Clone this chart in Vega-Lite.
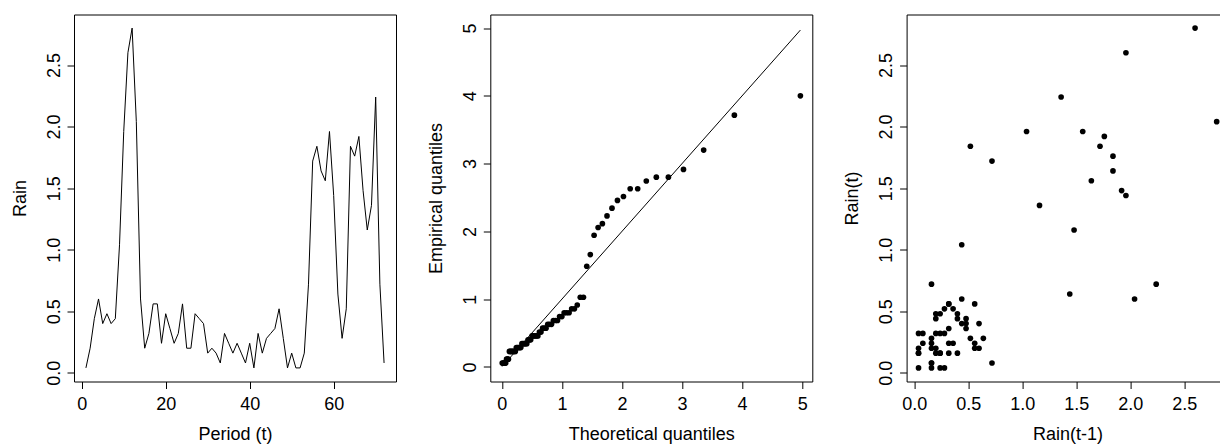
{
  "$schema": "https://vega.github.io/schema/vega-lite/v6.json",
  "padding": {"left": 10, "top": 13.5, "right": 5, "bottom": 0},
  "background": "white",
  "bounds": "flush",
  "spacing": 94.3,
  "datasets": {
    "rain": [
      {"t": 1, "v": 0.04}, {"t": 2, "v": 0.20}, {"t": 3, "v": 0.44}, {"t": 4, "v": 0.60}, {"t": 5, "v": 0.40},
      {"t": 6, "v": 0.48}, {"t": 7, "v": 0.40}, {"t": 8, "v": 0.44}, {"t": 9, "v": 1.04}, {"t": 10, "v": 1.96},
      {"t": 11, "v": 2.60}, {"t": 12, "v": 2.80}, {"t": 13, "v": 2.04}, {"t": 14, "v": 0.60}, {"t": 15, "v": 0.20},
      {"t": 16, "v": 0.32}, {"t": 17, "v": 0.56}, {"t": 18, "v": 0.56}, {"t": 19, "v": 0.24}, {"t": 20, "v": 0.48},
      {"t": 21, "v": 0.36}, {"t": 22, "v": 0.24}, {"t": 23, "v": 0.32}, {"t": 24, "v": 0.56}, {"t": 25, "v": 0.20},
      {"t": 26, "v": 0.20}, {"t": 27, "v": 0.48}, {"t": 28, "v": 0.44}, {"t": 29, "v": 0.40}, {"t": 30, "v": 0.16},
      {"t": 31, "v": 0.20}, {"t": 32, "v": 0.16}, {"t": 33, "v": 0.08}, {"t": 34, "v": 0.32}, {"t": 35, "v": 0.24},
      {"t": 36, "v": 0.16}, {"t": 37, "v": 0.24}, {"t": 38, "v": 0.16}, {"t": 39, "v": 0.08}, {"t": 40, "v": 0.24},
      {"t": 41, "v": 0.04}, {"t": 42, "v": 0.32}, {"t": 43, "v": 0.16}, {"t": 44, "v": 0.28}, {"t": 45, "v": 0.32},
      {"t": 46, "v": 0.36}, {"t": 47, "v": 0.52}, {"t": 48, "v": 0.28}, {"t": 49, "v": 0.04}, {"t": 50, "v": 0.16},
      {"t": 51, "v": 0.04}, {"t": 52, "v": 0.04}, {"t": 53, "v": 0.16}, {"t": 54, "v": 0.72}, {"t": 55, "v": 1.72},
      {"t": 56, "v": 1.84}, {"t": 57, "v": 1.64}, {"t": 58, "v": 1.56}, {"t": 59, "v": 1.96}, {"t": 60, "v": 1.44},
      {"t": 61, "v": 0.64}, {"t": 62, "v": 0.28}, {"t": 63, "v": 0.52}, {"t": 64, "v": 1.84}, {"t": 65, "v": 1.76},
      {"t": 66, "v": 1.92}, {"t": 67, "v": 1.48}, {"t": 68, "v": 1.16}, {"t": 69, "v": 1.36}, {"t": 70, "v": 2.24},
      {"t": 71, "v": 0.72}, {"t": 72, "v": 0.08}
    ],
    "qq": [
      {"theo": 0.007, "emp": 0.0571}, {"theo": 0.021, "emp": 0.0571}, {"theo": 0.035, "emp": 0.0571}, {"theo": 0.050, "emp": 0.0571}, {"theo": 0.065, "emp": 0.0571},
      {"theo": 0.079, "emp": 0.1143}, {"theo": 0.095, "emp": 0.1143}, {"theo": 0.110, "emp": 0.1143},
      {"theo": 0.126, "emp": 0.2286}, {"theo": 0.141, "emp": 0.2286}, {"theo": 0.158, "emp": 0.2286}, {"theo": 0.174, "emp": 0.2286}, {"theo": 0.191, "emp": 0.2286}, {"theo": 0.208, "emp": 0.2286}, {"theo": 0.225, "emp": 0.2286},
      {"theo": 0.242, "emp": 0.2857}, {"theo": 0.260, "emp": 0.2857}, {"theo": 0.278, "emp": 0.2857}, {"theo": 0.297, "emp": 0.2857}, {"theo": 0.316, "emp": 0.2857},
      {"theo": 0.335, "emp": 0.3429}, {"theo": 0.355, "emp": 0.3429}, {"theo": 0.375, "emp": 0.3429}, {"theo": 0.395, "emp": 0.3429}, {"theo": 0.416, "emp": 0.3429},
      {"theo": 0.437, "emp": 0.4000}, {"theo": 0.459, "emp": 0.4000}, {"theo": 0.481, "emp": 0.4000},
      {"theo": 0.504, "emp": 0.4571}, {"theo": 0.527, "emp": 0.4571}, {"theo": 0.551, "emp": 0.4571}, {"theo": 0.575, "emp": 0.4571}, {"theo": 0.600, "emp": 0.4571},
      {"theo": 0.626, "emp": 0.5143}, {"theo": 0.652, "emp": 0.5143},
      {"theo": 0.679, "emp": 0.5714}, {"theo": 0.707, "emp": 0.5714}, {"theo": 0.736, "emp": 0.5714},
      {"theo": 0.765, "emp": 0.6286}, {"theo": 0.795, "emp": 0.6286}, {"theo": 0.827, "emp": 0.6286},
      {"theo": 0.859, "emp": 0.6857}, {"theo": 0.892, "emp": 0.6857}, {"theo": 0.927, "emp": 0.6857},
      {"theo": 0.962, "emp": 0.7429}, {"theo": 1.000, "emp": 0.7429},
      {"theo": 1.038, "emp": 0.8000}, {"theo": 1.078, "emp": 0.8000}, {"theo": 1.120, "emp": 0.8000},
      {"theo": 1.163, "emp": 0.8571}, {"theo": 1.209, "emp": 0.8571},
      {"theo": 1.256, "emp": 0.9143},
      {"theo": 1.306, "emp": 1.0286}, {"theo": 1.359, "emp": 1.0286},
      {"theo": 1.414, "emp": 1.4857}, {"theo": 1.473, "emp": 1.6571}, {"theo": 1.536, "emp": 1.9429}, {"theo": 1.603, "emp": 2.0571},
      {"theo": 1.674, "emp": 2.1143}, {"theo": 1.751, "emp": 2.2286}, {"theo": 1.834, "emp": 2.3429}, {"theo": 1.925, "emp": 2.4571},
      {"theo": 2.025, "emp": 2.5143}, {"theo": 2.137, "emp": 2.6286}, {"theo": 2.262, "emp": 2.6286}, {"theo": 2.405, "emp": 2.7429},
      {"theo": 2.572, "emp": 2.8000}, {"theo": 2.773, "emp": 2.8000}, {"theo": 3.024, "emp": 2.9143}, {"theo": 3.360, "emp": 3.2000},
      {"theo": 3.871, "emp": 3.7143}, {"theo": 4.970, "emp": 4.0000}
    ],
    "ref": [{"a": 0.007, "b": 0.007}, {"a": 4.970, "b": 4.970}],
    "lag": [
      {"prev": 0.04, "cur": 0.20}, {"prev": 0.20, "cur": 0.44}, {"prev": 0.44, "cur": 0.60}, {"prev": 0.60, "cur": 0.40}, {"prev": 0.40, "cur": 0.48},
      {"prev": 0.48, "cur": 0.40}, {"prev": 0.40, "cur": 0.44}, {"prev": 0.44, "cur": 1.04}, {"prev": 1.04, "cur": 1.96}, {"prev": 1.96, "cur": 2.60},
      {"prev": 2.60, "cur": 2.80}, {"prev": 2.80, "cur": 2.04}, {"prev": 2.04, "cur": 0.60}, {"prev": 0.60, "cur": 0.20}, {"prev": 0.20, "cur": 0.32},
      {"prev": 0.32, "cur": 0.56}, {"prev": 0.56, "cur": 0.56}, {"prev": 0.56, "cur": 0.24}, {"prev": 0.24, "cur": 0.48}, {"prev": 0.48, "cur": 0.36},
      {"prev": 0.36, "cur": 0.24}, {"prev": 0.24, "cur": 0.32}, {"prev": 0.32, "cur": 0.56}, {"prev": 0.56, "cur": 0.20}, {"prev": 0.20, "cur": 0.20},
      {"prev": 0.20, "cur": 0.48}, {"prev": 0.48, "cur": 0.44}, {"prev": 0.44, "cur": 0.40}, {"prev": 0.40, "cur": 0.16}, {"prev": 0.16, "cur": 0.20},
      {"prev": 0.20, "cur": 0.16}, {"prev": 0.16, "cur": 0.08}, {"prev": 0.08, "cur": 0.32}, {"prev": 0.32, "cur": 0.24}, {"prev": 0.24, "cur": 0.16},
      {"prev": 0.16, "cur": 0.24}, {"prev": 0.24, "cur": 0.16}, {"prev": 0.16, "cur": 0.08}, {"prev": 0.08, "cur": 0.24}, {"prev": 0.24, "cur": 0.04},
      {"prev": 0.04, "cur": 0.32}, {"prev": 0.32, "cur": 0.16}, {"prev": 0.16, "cur": 0.28}, {"prev": 0.28, "cur": 0.32}, {"prev": 0.32, "cur": 0.36},
      {"prev": 0.36, "cur": 0.52}, {"prev": 0.52, "cur": 0.28}, {"prev": 0.28, "cur": 0.04}, {"prev": 0.04, "cur": 0.16}, {"prev": 0.16, "cur": 0.04},
      {"prev": 0.04, "cur": 0.04}, {"prev": 0.04, "cur": 0.16}, {"prev": 0.16, "cur": 0.72}, {"prev": 0.72, "cur": 1.72}, {"prev": 1.72, "cur": 1.84},
      {"prev": 1.84, "cur": 1.64}, {"prev": 1.64, "cur": 1.56}, {"prev": 1.56, "cur": 1.96}, {"prev": 1.96, "cur": 1.44}, {"prev": 1.44, "cur": 0.64},
      {"prev": 0.64, "cur": 0.28}, {"prev": 0.28, "cur": 0.52}, {"prev": 0.52, "cur": 1.84}, {"prev": 1.84, "cur": 1.76}, {"prev": 1.76, "cur": 1.92},
      {"prev": 1.92, "cur": 1.48}, {"prev": 1.48, "cur": 1.16}, {"prev": 1.16, "cur": 1.36}, {"prev": 1.36, "cur": 2.24}, {"prev": 2.24, "cur": 0.72},
      {"prev": 0.72, "cur": 0.08}
    ]
  },
  "hconcat": [
    {
      "width": 322, "height": 367,
      "data": {"name": "rain"},
      "mark": {"type": "line", "color": "black", "strokeWidth": 1, "clip": true},
      "encoding": {
        "x": {"field": "t", "type": "quantitative", "title": "Period (t)",
              "scale": {"domain": [-1.84, 74.84], "nice": false, "zero": false},
              "axis": {"values": [0, 20, 40, 60]}},
        "y": {"field": "v", "type": "quantitative", "title": "Rain",
              "scale": {"domain": [-0.0704, 2.9104], "nice": false, "zero": false},
              "axis": {"values": [0, 0.5, 1, 1.5, 2, 2.5], "format": ".1f"}}
      }
    },
    {
      "width": 322, "height": 367,
      "layer": [
        {
          "data": {"name": "ref"},
          "mark": {"type": "line", "color": "black", "strokeWidth": 1, "clip": true},
          "encoding": {
            "x": {"field": "a", "type": "quantitative"},
            "y": {"field": "b", "type": "quantitative"}
          }
        },
        {
          "data": {"name": "qq"},
          "mark": {"type": "circle", "color": "black", "opacity": 1, "size": 32},
          "encoding": {
            "x": {"field": "theo", "type": "quantitative", "title": "Theoretical quantiles",
                  "scale": {"domain": [-0.1916, 5.1683], "nice": false, "zero": false},
                  "axis": {"values": [0, 1, 2, 3, 4, 5], "format": "d"}},
            "y": {"field": "emp", "type": "quantitative", "title": "Empirical quantiles",
                  "scale": {"domain": [-0.215, 5.2], "nice": false, "zero": false},
                  "axis": {"values": [0, 1, 2, 3, 4, 5], "format": "d"}}
          }
        }
      ]
    },
    {
      "width": 322, "height": 367,
      "data": {"name": "lag"},
      "mark": {"type": "circle", "color": "black", "opacity": 1, "size": 32},
      "encoding": {
        "x": {"field": "prev", "type": "quantitative", "title": "Rain(t-1)",
              "scale": {"domain": [-0.0704, 2.9104], "nice": false, "zero": false},
              "axis": {"values": [0, 0.5, 1, 1.5, 2, 2.5], "format": ".1f"}},
        "y": {"field": "cur", "type": "quantitative", "title": "Rain(t)",
              "scale": {"domain": [-0.0704, 2.9104], "nice": false, "zero": false},
              "axis": {"values": [0, 0.5, 1, 1.5, 2, 2.5], "format": ".1f"}}
      }
    }
  ],
  "config": {
    "font": "Liberation Sans",
    "view": {"stroke": "black", "strokeWidth": 1},
    "axis": {
      "domain": false, "grid": false, "ticks": true,
      "tickColor": "black", "tickSize": 7, "tickWidth": 1,
      "labelFont": "Liberation Sans", "labelFontSize": 18, "labelColor": "black",
      "labelOverlap": false, "labelFlush": false,
      "titleFont": "Liberation Sans", "titleFontSize": 18, "titleFontWeight": "normal", "titleColor": "black"
    },
    "axisX": {"labelPadding": 7, "titlePadding": 12},
    "axisY": {"labelAngle": 270, "labelPadding": 4, "titlePadding": 16}
  }
}
